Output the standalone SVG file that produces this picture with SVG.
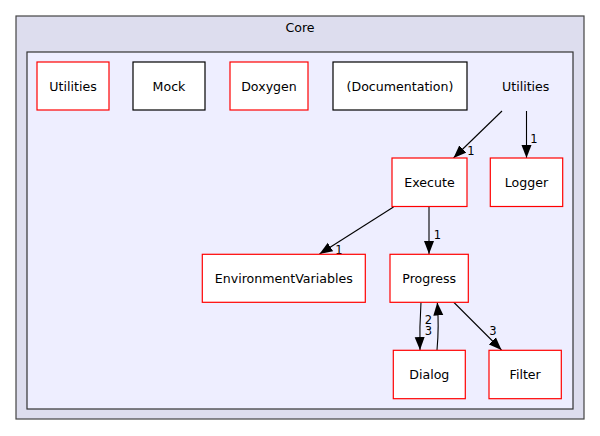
<svg xmlns="http://www.w3.org/2000/svg" width="600" height="436" viewBox="0 0 600 436">
<style>
text{font-family:"DejaVu Sans","Liberation Sans",sans-serif;fill:#000}
.t{font-size:12.6px;text-anchor:middle}
.l{font-size:11.5px;text-anchor:middle}
.n{fill:#fff;stroke:#ff0000;stroke-width:1.2}
.k{fill:#fff;stroke:#000;stroke-width:1.2}
.e{fill:none;stroke:#000;stroke-width:1.1}
</style>
<defs>
<marker id="a" markerUnits="userSpaceOnUse" markerWidth="13" markerHeight="11" refX="13" refY="5.5" orient="auto">
<path d="M0,0.5 L13,5.5 L0,10.5 z" fill="#000"/>
</marker>
</defs>
<rect width="600" height="436" fill="#fff"/>
<g id="cluster-core">
<rect x="16" y="16" width="568" height="403" fill="#ddddee" stroke="#444" stroke-width="1.2"/>
<text class="t" x="300" y="32">Core</text>
<rect x="27" y="52" width="546" height="357" fill="#eeeeff" stroke="#333" stroke-width="1.2"/>
</g>
<g id="edges">
<line class="e" x1="502" y1="111" x2="453.5" y2="158" marker-end="url(#a)"/>
<text class="l" x="471" y="155">1</text>
<line class="e" x1="526.5" y1="111" x2="526.5" y2="158" marker-end="url(#a)"/>
<text class="l" x="534" y="143">1</text>
<line class="e" x1="393.5" y1="207" x2="319.5" y2="254" marker-end="url(#a)"/>
<text class="l" x="339" y="254">1</text>
<line class="e" x1="429" y1="207" x2="429" y2="254" marker-end="url(#a)"/>
<text class="l" x="437.5" y="239">1</text>
<path class="e" d="M421,302 C420,318 419.5,330 420,350" marker-end="url(#a)"/>
<path class="e" d="M437,350 C438.5,334 438.5,318 437.3,302.5" marker-end="url(#a)"/>
<text class="l" x="428.5" y="323.5">2</text>
<text class="l" x="428.5" y="335">3</text>
<line class="e" x1="453.5" y1="302" x2="501.5" y2="350" marker-end="url(#a)"/>
<text class="l" x="493" y="335">3</text>
</g>
<g id="node-utilities-left">
<rect class="n" x="37" y="62" width="72" height="48"/>
<text class="t" x="73" y="90.7">Utilities</text>
</g>
<g id="node-mock">
<rect class="k" x="133" y="62" width="72" height="48"/>
<text class="t" x="169" y="90.7">Mock</text>
</g>
<g id="node-doxygen">
<rect class="n" x="230" y="62" width="78" height="48"/>
<text class="t" x="269" y="90.7">Doxygen</text>
</g>
<g id="node-documentation">
<rect class="k" x="333" y="62" width="134" height="48"/>
<text class="t" x="400" y="90.7">(Documentation)</text>
</g>
<g id="node-utilities">
<text class="t" x="525.7" y="90.7">Utilities</text>
</g>
<g id="node-execute">
<rect class="n" x="392" y="158" width="75" height="48.5"/>
<text class="t" x="429.5" y="186.9">Execute</text>
</g>
<g id="node-logger">
<rect class="n" x="490.3" y="158" width="72.4" height="48.5"/>
<text class="t" x="526.5" y="186.9">Logger</text>
</g>
<g id="node-environmentvariables">
<rect class="n" x="202.3" y="254.3" width="163" height="48"/>
<text class="t" x="283.8" y="283">EnvironmentVariables</text>
</g>
<g id="node-progress">
<rect class="n" x="390" y="254.3" width="78.3" height="48"/>
<text class="t" x="429.2" y="283">Progress</text>
</g>
<g id="node-dialog">
<rect class="n" x="393.3" y="350.3" width="72" height="48.4"/>
<text class="t" x="429.3" y="379">Dialog</text>
</g>
<g id="node-filter">
<rect class="n" x="489" y="350.3" width="72.3" height="48.4"/>
<text class="t" x="525.2" y="379">Filter</text>
</g>
</svg>
